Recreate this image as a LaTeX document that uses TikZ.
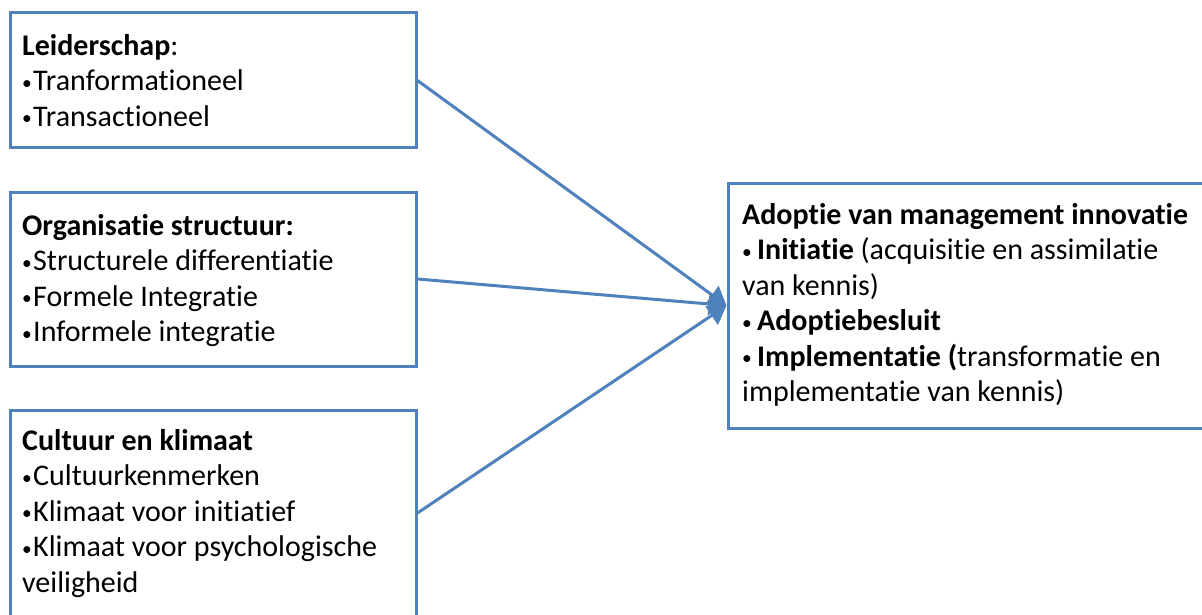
\documentclass[tikz,border=0pt]{standalone}
\usepackage{fontspec}
\usepackage{graphicx}
\setmainfont{Carlito}[Ligatures=NoCommon]
\usetikzlibrary{arrows.meta}
\definecolor{officeblue}{RGB}{79,129,189}
\newcommand\mybul[1]{\makebox[#1][l]{\raisebox{1.4pt}{\scalebox{0.65}{•}}}}
\begin{document}
\begin{tikzpicture}[x=1pt,y=-1pt,
  box/.style={draw=officeblue, line width=3pt, fill=white, inner sep=0pt},
  txt/.style={anchor=north west, inner sep=0pt, align=left, text=black,
    font=\fontsize{30}{35.5}\selectfont},
  link/.style={draw=officeblue, line width=3pt, -{Triangle[length=18pt,width=22pt]}}
]
\useasboundingbox (0,0) rectangle (1202,615);
\clip (0,0) rectangle (1202,615);
\fill[white] (0,0) rectangle (1202,615);

\node[box, minimum width=406pt, minimum height=135pt] (lead) at (213,80.5) {};
\node[box, minimum width=406pt, minimum height=174pt] (org) at (213,279) {};
\node[box, minimum width=406pt, minimum height=206pt] (cult) at (213,513) {};
\node[box, minimum width=482pt, minimum height=245pt] (adopt) at (969,305.5) {};

\node[txt] (leadtxt) at (22,30.15) {\strut\textbf{Leiderschap}:\\
  \mybul{11pt}Tranformationeel\\
  \mybul{11pt}Transactioneel};
\node[txt] (orgtxt) at (22,210.15) {\strut\textbf{Organisatie structuur:}\\
  \mybul{11pt}Structurele differentiatie\\
  \mybul{11pt}Formele Integratie\\
  \mybul{11pt}Informele integratie};
\node[txt] (culttxt) at (22,425.15) {\strut\textbf{Cultuur en klimaat}\\
  \mybul{11pt}Cultuurkenmerken\\
  \mybul{11pt}Klimaat voor initiatief\\
  \mybul{11pt}Klimaat voor psychologische\\
  veiligheid};
\node[txt] (adopttxt) at (742,199.15) {\strut\textbf{Adoptie van management innovatie}\\
  \mybul{15pt}\textbf{Initiatie} (acquisitie en assimilatie\\
  van kennis)\\
  \mybul{15pt}\textbf{Adoptiebesluit}\\
  \mybul{15pt}\textbf{Implementatie (}transformatie en\\
  implementatie van kennis)};

\draw[link] (lead.east) -- (adopt.west);
\draw[link] (org.east) -- (adopt.west);
\draw[link] (cult.east) -- (adopt.west);
\end{tikzpicture}
\end{document}
